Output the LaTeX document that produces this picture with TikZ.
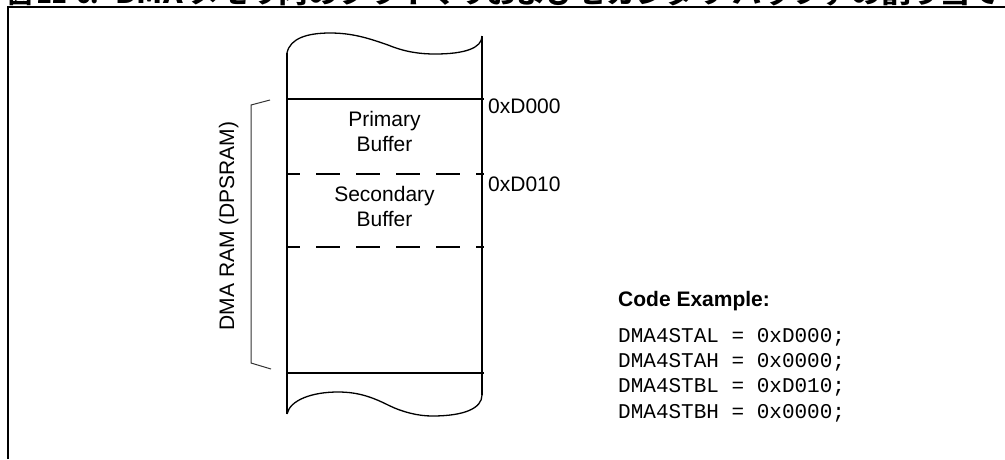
\documentclass[tikz,border=0pt]{standalone}
\usepackage{fontspec}
\usepackage{graphicx}
\setmainfont{Liberation Sans}
\setmonofont{Liberation Mono}
\newfontfamily\cjk{Noto Sans CJK JP}
\begin{document}
\begin{tikzpicture}[x=1pt,y=-1pt,
  lbl/.style={font=\fontsize{21}{25}\selectfont, inner sep=0pt},
  codeln/.style={font=\ttfamily\fontsize{21}{25}\selectfont, inner sep=0pt, anchor=base west},
  ttl/.style={font=\cjk\bfseries\fontsize{24}{28}\selectfont, inner sep=0pt, anchor=base west},
  heavy/.style={line width=2pt},
  wave/.style={line width=1.3pt},
  dashline/.style={line width=2pt, dash pattern=on 24pt off 16pt, dash phase=11pt},
  bracket/.style={line width=1pt, draw=black!80}]
\useasboundingbox (0,0) rectangle (1005,459);
% title (clipped by the page top)
\node[ttl] (title1) at (8,3) {図 22-6:};
\node[ttl] (title2) at (115,3) {\resizebox{885pt}{\height}{DMA メモリ内のプライマリおよびセカンダリ バッファの割り当て}};
% frame
\draw[line width=2.5pt] (8,459) -- (8,7) -- (1006,7);
% memory column
\draw[heavy] (287,414) -- (287,53);
\draw[heavy] (482,395) -- (482,36);
\draw[wave] (287,53) .. controls (290,38) and (308,33) .. (330,33)
  .. controls (352,33) and (368,38) .. (388,45)
  .. controls (405,52) and (420,54) .. (435,54)
  .. controls (465,54) and (482,48) .. (482,36);
\draw[wave] (287,414) .. controls (290,400) and (312,392) .. (338,392)
  .. controls (358,392) and (372,397) .. (388,405)
  .. controls (402,412) and (418,416) .. (432,416)
  .. controls (465,416) and (482,408) .. (482,395);
\draw[heavy] (287,99) -- (484,99);
\draw[heavy] (287,373) -- (484,373);
\draw[dashline] (287,174) -- (484,174);
\draw[dashline] (287,247) -- (484,247);
% texts in the column
\node[lbl, anchor=base] (p1) at (384.5,126) {Primary};
\node[lbl, anchor=base] (p2) at (384.5,151.7) {Buffer};
\node[lbl, anchor=base] (s1) at (384.5,201.5) {Secondary};
\node[lbl, anchor=base] (s2) at (384.5,226.7) {Buffer};
\node[lbl, anchor=base west] (a1) at (488,113) {0xD000};
\node[lbl, anchor=base west] (a2) at (488,191) {0xD010};
% bracket and its label
\draw[bracket] (270,100) -- (251,105) -- (251,363) -- (271,369);
\node[lbl, rotate=90, anchor=base] (ram) at (234,226) {DMA RAM (DPSRAM)};
% code example
\node[lbl, anchor=base west, font=\bfseries\fontsize{21}{25}\selectfont] (ce) at (618,306) {Code Example:};
\node[codeln] (c1) at (618,342) {DMA4STAL = 0xD000;};
\node[codeln] (c2) at (618,367.3) {DMA4STAH = 0x0000;};
\node[codeln] (c3) at (618,392.6) {DMA4STBL = 0xD010;};
\node[codeln] (c4) at (618,418) {DMA4STBH = 0x0000;};
\end{tikzpicture}
\end{document}
